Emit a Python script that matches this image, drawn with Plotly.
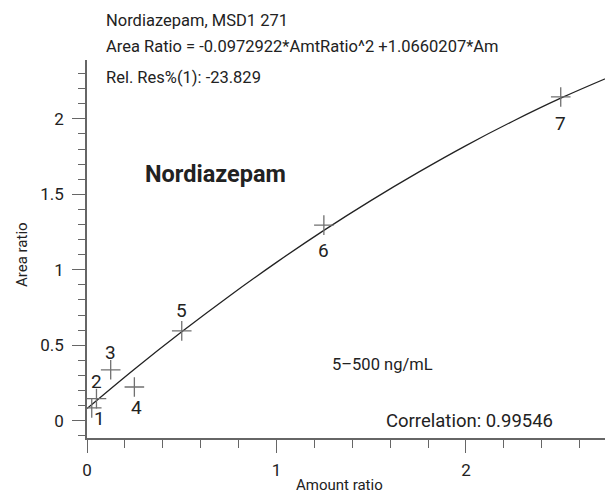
import plotly.graph_objects as go

# calibration points (amount ratio vs area ratio)
amount_ratio = [0.025, 0.05, 0.125, 0.25, 0.5, 1.25, 2.5]
area_ratio = [0.084, 0.146, 0.337, 0.223, 0.595, 1.296, 2.145]
point_labels = ["1", "2", "3", "4", "5", "6", "7"]

# fitted curve
curve_x = [0.0, 0.25, 0.5, 0.75, 1.0, 1.25, 1.5, 1.75, 2.0, 2.25, 2.5, 2.76]
curve_y = [0.08, 0.341, 0.589, 0.825, 1.049, 1.261, 1.460, 1.647, 1.823, 1.986, 2.137, 2.279]

title_lines = ["Nordiazepam, MSD1 271",
               "Area Ratio = -0.0972922*AmtRatio^2 +1.0660207*Am",
               "Rel. Res%(1): -23.829"]
compound = "Nordiazepam"
conc_range = "5\u2013500 ng/mL"
correlation = "Correlation: 0.99546"
x_title = "Amount ratio"
y_title = "Area ratio"

FONT = "Roboto, Liberation Sans, sans-serif"
# label offsets in pixels (dx, dy)
label_offsets = [(8, -11), (0, 17), (0, 17), (2, -20), (0, 20), (0, -25), (0, -27)]

# page body has an 8px margin, so the figure is drawn 8px in from the corner
OFF = 8
W, H = 613, 497
L, R, T, B = 87 - OFF, W - (610 - OFF), 60 - OFF, H - (438 - OFF)
pw, ph = W - L - R, H - T - B

fig = go.Figure()

fig.add_trace(go.Scatter(
    x=curve_x, y=curve_y, mode='lines', line_shape='spline',
    line=dict(color='#222222', width=1.3), hoverinfo='skip'
))

fig.add_trace(go.Scatter(
    x=amount_ratio, y=area_ratio, mode='markers',
    marker=dict(symbol='cross-thin', size=14, line=dict(color='#707070', width=1.3))
))

annotations = []
for xv, yv, lab, (dx, dy) in zip(amount_ratio, area_ratio, point_labels, label_offsets):
    annotations.append(dict(x=xv, y=yv, xref='x', yref='y', text=lab, showarrow=False,
                            xshift=dx, yshift=dy, font=dict(size=19, color='#222222', family=FONT)))


def paper_xy(px, py):
    # page pixel position -> paper coordinates
    return (px - OFF - L) / pw, (H - B - (py - OFF)) / ph


def add_text(text, px, py, size, xanchor='left', angle=0):
    x, y = paper_xy(px, py)
    annotations.append(dict(x=x, y=y, xref='paper', yref='paper', text=text, showarrow=False,
                            xanchor=xanchor, yanchor='middle', textangle=angle,
                            font=dict(size=size, color='#222222', family=FONT)))


for text, py in zip(title_lines, [21, 46, 77]):
    add_text(text, 104, py, 16.5)

add_text('<b>' + compound + '</b>', 143, 174, 23.5)
add_text(conc_range, 330, 364, 16.5)
add_text(correlation, 555, 421, 18.5, xanchor='right')
add_text(x_title, 339, 485, 15, xanchor='center')
add_text(y_title, 22, 255, 15, xanchor='center', angle=-90)

axis_common = dict(
    showgrid=False, zeroline=False, showline=True, linecolor='#666666', linewidth=1.5,
    ticks='outside', ticklen=13, tickcolor='#666666', tickwidth=1.3, automargin=False,
    tickfont=dict(size=17, color='#222222', family=FONT),
)

fig.update_layout(
    width=W, height=H,
    margin=dict(l=L, r=R, t=T, b=B, autoexpand=False),
    plot_bgcolor='white', paper_bgcolor='white',
    showlegend=False,
    annotations=annotations,
    xaxis=dict(range=[0, 2.76], dtick=1, tick0=0, ticklabelstandoff=3,
               minor=dict(dtick=0.2, ticklen=8, ticks='outside', tickcolor='#666666', tickwidth=1.3),
               **axis_common),
    yaxis=dict(range=[-0.115, 2.39], dtick=0.5, tick0=0, ticklabelstandoff=5,
               minor=dict(dtick=0.1, ticklen=7, ticks='outside', tickcolor='#666666', tickwidth=1.3),
               **axis_common),
)

fig.write_html("out.html")
